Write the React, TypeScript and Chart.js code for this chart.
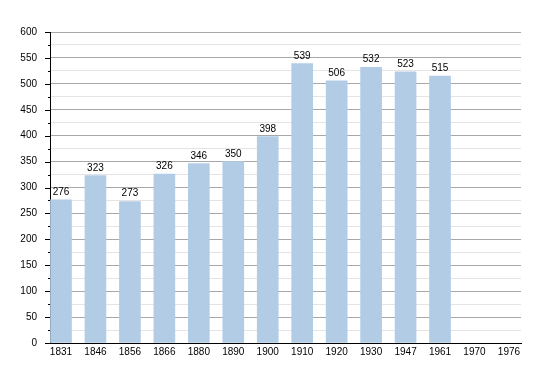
import React, { useEffect, useRef } from "react";
import { Chart, registerables } from "chart.js";

Chart.register(...registerables);

const years = ["1831", "1846", "1856", "1866", "1880", "1890", "1900", "1910", "1920", "1930", "1947", "1961", "1970", "1976"];
const population = [276, 323, 273, 326, 346, 350, 398, 539, 506, 532, 523, 515];
const yTicks = [0, 50, 100, 150, 200, 250, 300, 350, 400, 450, 500, 550, 600];

const FONT = "'Liberation Sans', Arial, sans-serif";

export default function App() {
  const ref = useRef<HTMLCanvasElement>(null);

  useEffect(() => {
    if (!ref.current) return;

    const tickPlugin = {
      id: "customTicks",
      afterDraw(chart: any) {
        const ctx = chart.ctx;
        const y = chart.scales.y;
        const x = chart.scales.x;
        ctx.save();
        ctx.strokeStyle = "#000";
        ctx.lineWidth = 1;
        for (let v = 0; v <= 600; v += 25) {
          const py = Math.round(y.getPixelForValue(v)) + 0.5;
          const len = v % 50 === 0 ? 5 : 2;
          ctx.beginPath();
          ctx.moveTo(x.left - len, py);
          ctx.lineTo(x.left, py);
          ctx.stroke();
        }
        ctx.restore();
      },
    };

    const labelPlugin = {
      id: "barLabels",
      afterDatasetsDraw(chart: any) {
        const ctx = chart.ctx;
        const meta = chart.getDatasetMeta(0);
        ctx.save();
        ctx.font = `10px ${FONT}`;
        ctx.fillStyle = "#000";
        ctx.textAlign = "center";
        ctx.textBaseline = "alphabetic";
        meta.data.forEach((bar: any, i: number) => {
          ctx.fillText(String(population[i]), bar.x, bar.y - 5);
        });
        ctx.restore();
      },
    };

    const chart = new Chart(ref.current, {
      type: "bar",
      data: {
        datasets: [
          {
            data: population.map((v, i) => ({ x: i, y: v })),
            backgroundColor: "#b2cce6",
            borderWidth: 0,
            barThickness: 21,
          },
        ],
      },
      options: {
        responsive: false,
        animation: false,
        devicePixelRatio: 1,
        layout: { padding: { top: 24, right: 21, left: 0, bottom: 0 } },
        plugins: {
          legend: { display: false },
          tooltip: { enabled: false },
        },
        scales: {
          x: {
            type: "linear",
            offset: false,
            min: -0.319,
            max: 13.35,
            afterBuildTicks: (scale: any) => {
              scale.ticks = years.map((_, i) => ({ value: i }));
            },
            afterFit: (scale: any) => {
              scale.height = 22;
            },
            grid: { display: false, drawTicks: false, offset: false },
            border: { display: true, color: "#000", width: 1 },
            ticks: {
              padding: 3,
              autoSkip: false,
              maxRotation: 0,
              color: "#000",
              font: { family: FONT, size: 10 },
              callback: (v: any) => years[v as number] ?? "",
            },
          },
          y: {
            min: 0,
            max: 600,
            afterBuildTicks: (scale: any) => {
              const t: any[] = [];
              for (let v = 0; v <= 600; v += 25) t.push({ value: v });
              scale.ticks = t;
            },
            afterFit: (scale: any) => {
              scale.width = 42;
            },
            grid: {
              drawTicks: false,
              color: (c: any) => (c.tick && c.tick.value % 50 === 0 ? "#a8a8a8" : "#e4e4e4"),
            },
            border: { display: true, color: "#000", width: 1 },
            ticks: {
              padding: 13,
              autoSkip: false,
              color: "#000",
              font: { family: FONT, size: 10 },
              callback: (v: any) => (yTicks.includes(v as number) ? String(v) : ""),
            },
          },
        },
      },
      plugins: [tickPlugin, labelPlugin],
    } as any);

    return () => chart.destroy();
  }, []);

  return <canvas ref={ref} width={534} height={357} style={{ display: "block" }} />;
}
